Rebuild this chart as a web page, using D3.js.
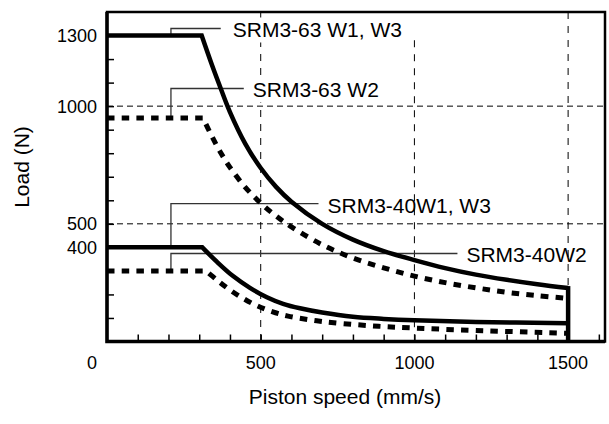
<!DOCTYPE html>
<html><head><meta charset="utf-8">
<script src="https://cdn.jsdelivr.net/npm/d3@7"></script>
<style>
body{margin:0;background:#fff}
svg{display:block}
text{font-family:"Liberation Sans",Arial,Helvetica,sans-serif;fill:#000}
</style>
</head><body>
<svg id="chart" width="609" height="424"></svg>
<script>
// ---------- data ----------
const speed63W13 = [0,308,340,370,400,450,500,550,600,700,800,900,1000,1100,1200,1300,1400,1500];
const load63W13  = [1300,1300,1180,1075,975,840,737,657,594,500,433,384,346,312,284,262,243,227];

const speed63W2 = [0,312,340,370,400,450,500,550,600,700,800,900,1000,1100,1200,1300,1400,1500];
const load63W2  = [950,950,875,802,740,655,588,533,487,411,355,313,278,250,228,209,195,183];

const speed40W13 = [0,310,358,410,465,520,573,628,700,800,900,1000,1200,1500];
const load40W13  = [400,400,338,278,228,188,160,141,123,105,96,90,83,78];

const speed40W2 = [0,322,358,400,443,488,537,589,700,846,1000,1200,1500];
const load40W2  = [300,300,261,219,183,152,127,108,85,68,57,47,35];

const seriesNames = ["SRM3-63 W1, W3","SRM3-63 W2","SRM3-40W1, W3","SRM3-40W2"];
const leaderSpeed = 208;                       // speed of the leader stems
const leaderFrom  = [1300,950,400,300];        // load where leader leaves the curve
const leaderLevel = [1330,1075,586,374];       // load of leader horizontal
const leaderEnd   = [370,445,688,1140];        // speed where leader ends

const yTickLabels = [400,500,1000,1300];
const xTickLabels = [500,1000,1500];
const yGrid = [500,1000];
const xGrid = [500,1000,1500];
const xGridTop = [1400,1280,1400];
const maxSpeed = 1500;

// ---------- layout ----------
const svg = d3.select("#chart");
const m = {left:107, top:12, right:4, bottom:82.5};
const W = 609 - m.left - m.right, H = 424 - m.top - m.bottom;
const g = svg.append("g").attr("transform",`translate(${m.left},${m.top})`);

const x = d3.scaleLinear().domain([0,1620]).range([0,W]);
const y = d3.scaleLinear().domain([0,1400]).range([H,0]);

// gridlines
g.selectAll(".hg").data(yGrid).join("line")
  .attr("x1",0).attr("x2",W).attr("y1",d=>y(d)).attr("y2",d=>y(d))
  .attr("stroke","#000").attr("stroke-width",1).attr("stroke-dasharray","6,4");
g.selectAll(".vg").data(xGrid).join("line")
  .attr("x1",d=>x(d)).attr("x2",d=>x(d)).attr("y1",(d,i)=>y(xGridTop[i])).attr("y2",H)
  .attr("stroke","#000").attr("stroke-width",1).attr("stroke-dasharray","7,7");

// ticks (inward)
const yTicks = g.append("g").call(d3.axisRight(y).tickValues(d3.range(100,1400,100)).tickSize(7).tickFormat(""));
yTicks.select(".domain").remove();
yTicks.selectAll("line").attr("stroke-width",1.5);
const xTicks = g.append("g").attr("transform",`translate(0,${H})`)
  .call(d3.axisTop(x).tickValues(d3.range(100,1700,100)).tickSize(7).tickFormat(""));
xTicks.select(".domain").remove();
xTicks.selectAll("line").attr("stroke-width",1.5);

// tick labels
g.selectAll(".ylab").data(yTickLabels).join("text")
  .attr("x",-10).attr("y",d=>y(d)+6.5).attr("text-anchor","end").attr("font-size",18)
  .text(d=>String(d));
g.selectAll(".xlab").data(xTickLabels).join("text")
  .attr("x",d=>x(d)).attr("y",H+27).attr("text-anchor","middle").attr("font-size",18)
  .text(d=>String(d));
g.append("text").attr("x",-10).attr("y",H+27).attr("text-anchor","end").attr("font-size",18).text("0");

// leaders + labels
seriesNames.forEach((name,i)=>{
  const lx = x(leaderSpeed), ly = y(leaderLevel[i]), ex = x(leaderEnd[i]);
  g.append("path")
    .attr("d",`M${lx},${y(leaderFrom[i])}V${ly}H${ex}`)
    .attr("fill","none").attr("stroke","#333").attr("stroke-width",1.3);
  const t = g.append("text").attr("x",ex+(i===0?12:9)).attr("y",ly+9).attr("font-size",21).text(name);
  if(i<2){
    const bb = t.node().getBBox();
    g.insert("rect",function(){return t.node();})
      .attr("x",bb.x-2).attr("y",bb.y-1).attr("width",bb.width+4).attr("height",bb.height+2)
      .attr("fill","#fff");
  }
});

// curves: straight flat part + smooth fall-off
const lin = d3.line().x(d=>x(d[0])).y(d=>y(d[1]));
const smooth = d3.line().x(d=>x(d[0])).y(d=>y(d[1])).curve(d3.curveCatmullRom.alpha(0.5));
function curvePath(xs,ys){
  const pts = xs.map((v,i)=>[v,ys[i]]);
  return lin(pts.slice(0,2)) + smooth(pts.slice(1)).replace(/^M/,"L");
}
const curves = [
  {xs:speed63W13, ys:load63W13, dash:null},
  {xs:speed63W2,  ys:load63W2,  dash:"7.5,7.2"},
  {xs:speed40W13, ys:load40W13, dash:null},
  {xs:speed40W2,  ys:load40W2,  dash:"7.5,7.2"}
];
curves.forEach(c=>{
  g.append("path").attr("d",curvePath(c.xs,c.ys))
    .attr("fill","none").attr("stroke","#000")
    .attr("stroke-width",c.dash?5:4.5)
    .attr("stroke-dasharray",c.dash)
    .attr("stroke-linejoin","miter");
});
// vertical limit at max speed
g.append("line").attr("x1",x(maxSpeed)).attr("x2",x(maxSpeed))
  .attr("y1",y(load63W13[load63W13.length-1])-2).attr("y2",H)
  .attr("stroke","#000").attr("stroke-width",4.5);

// frame
g.append("rect").attr("x",0).attr("y",0).attr("width",W).attr("height",H)
  .attr("fill","none").attr("stroke","#000").attr("stroke-width",2.5);
g.append("path").attr("d",`M0,0V${H}H${W}`).attr("fill","none").attr("stroke","#000").attr("stroke-width",3.5);

// axis titles
svg.append("text").attr("transform","translate(29,167) rotate(-90)")
  .attr("text-anchor","middle").attr("font-size",21).text("Load (N)");
svg.append("text").attr("x",345).attr("y",404)
  .attr("text-anchor","middle").attr("font-size",21).text("Piston speed (mm/s)");
</script>
</body></html>
